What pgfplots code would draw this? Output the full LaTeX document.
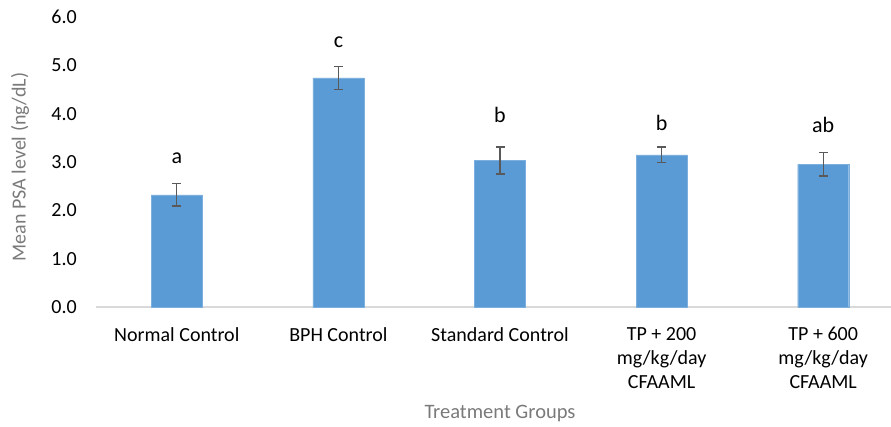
\documentclass[border=0pt]{standalone}
\usepackage{fontspec}
\setmainfont{Carlito}
\usepackage{pgfplots}
\pgfplotsset{compat=1.18}
\definecolor{barblue}{HTML}{5B9BD5}
\definecolor{errgray}{HTML}{595959}
\definecolor{titlegray}{HTML}{7A7A7A}
\definecolor{axisgray}{HTML}{D9D9D9}
\begin{document}
\begin{tikzpicture}[x=1pt,y=1pt]
\useasboundingbox (0,0) rectangle (891,426);
\begin{axis}[
  at={(96pt,119pt)}, anchor=south west,
  scale only axis, width=808pt, height=290pt,
  xmin=-0.5, xmax=4.5, ymin=0, ymax=6,
  axis x line*=bottom, axis y line*=left,
  y axis line style={draw=none},
  x axis line style={draw=axisgray, line width=1.2pt, -},
  major tick length=0,
  xtick={0,1,2,3,4},
  xticklabels={Normal Control, BPH Control, Standard Control, {TP + 200\\mg/kg/day\\CFAAML}, {TP + 600\\mg/kg/day\\CFAAML}},
  xticklabel style={align=center, anchor=north, inner sep=0pt, yshift=-20pt, font=\fontsize{20}{24}\selectfont, text=black},
  ytick={0,1,2,3,4,5,6},
  yticklabel style={anchor=east, inner sep=0pt, xshift=-19pt, font=\fontsize{20}{24}\selectfont, text=black},
  /pgf/number format/assume math mode=true,
  /pgf/number format/.cd, fixed, fixed zerofill, precision=1, /pgfplots/.cd,
  clip=false,
]
\addplot[ybar, bar width=51pt, fill=barblue, draw=barblue!80!white,
  error bars/.cd, y dir=both, y explicit,
  error bar style={color=errgray, line width=1.3pt},
  error mark options={rotate=90, mark size=4.5pt, color=errgray, line width=1.3pt}]
coordinates {
  (0,2.32) +- (0,0.23)
  (1,4.74) +- (0,0.24)
  (2,3.03) +- (0,0.28)
  (3,3.15) +- (0,0.16)
  (4,2.95) +- (0,0.24)
};
\node[font=\fontsize{22}{26}\selectfont] at (axis cs:0,3.08) {a};
\node[font=\fontsize{22}{26}\selectfont] at (axis cs:1,5.47) {c};
\node[font=\fontsize{22}{26}\selectfont] at (axis cs:2,3.97) {b};
\node[font=\fontsize{22}{26}\selectfont] at (axis cs:3,3.81) {b};
\node[font=\fontsize{22}{26}\selectfont] at (axis cs:4,3.77) {ab};
\end{axis}
\node[rotate=90, text=titlegray, font=\fontsize{20}{24}\selectfont] at (20,259) {Mean PSA level (ng/dL)};
\node[text=titlegray, font=\fontsize{20.5}{24}\selectfont] at (500,13) {Treatment Groups};
\end{tikzpicture}
\end{document}
